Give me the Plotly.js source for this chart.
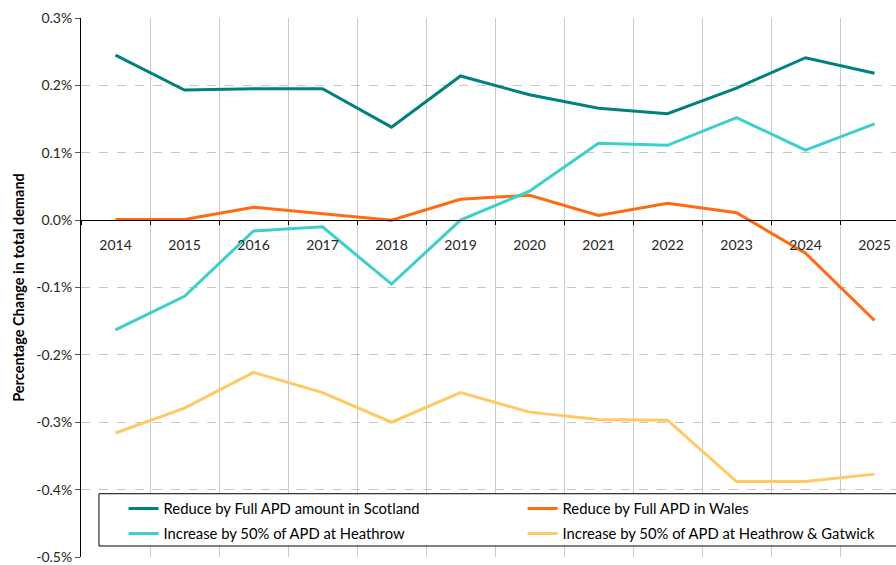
<!DOCTYPE html>
<html><head><meta charset="utf-8">
<script src="https://cdn.plot.ly/plotly-3.0.1.min.js"></script>
<style>html,body{margin:0;padding:0;overflow:hidden;background:#fff;width:896px;height:565px}</style>
</head><body>
<div id="chart" style="width:909px;height:565px"></div>
<script>
const years = ["2014","2015","2016","2017","2018","2019","2020","2021","2022","2023","2024","2025"];
const scotland = [0.245,0.193,0.195,0.195,0.138,0.214,0.186,0.166,0.158,0.196,0.241,0.218];
const wales = [0.001,0.001,0.019,0.009,0.000,0.031,0.037,0.007,0.025,0.011,-0.049,-0.149];
const heathrow = [-0.163,-0.113,-0.016,-0.010,-0.095,0.000,0.043,0.114,0.111,0.152,0.104,0.143];
const heathrowGatwick = [-0.316,-0.279,-0.226,-0.256,-0.300,-0.256,-0.285,-0.296,-0.297,-0.388,-0.388,-0.377];
const yTickVals = [0.3,0.2,0.1,0.0,-0.1,-0.2,-0.3,-0.4,-0.5];
const yTickText = ["0.3%","0.2%","0.1%","0.0%","-0.1%","-0.2%","-0.3%","-0.4%","-0.5%"];
const names = ["Reduce by Full APD amount in Scotland","Reduce by Full APD in Wales","Increase by 50% of APD at Heathrow","Increase by 50% of APD at Heathrow & Gatwick"];
const colors = ["#00807F","#FF6A13","#3CCFCB","#FFC966"];
const series = [scotland, wales, heathrow, heathrowGatwick];
const legendRefs = ["legend","legend2","legend3","legend4"];

const traces = series.map((s,i)=>({
  x: years, y: s, type: "scatter", mode: "lines", name: names[i],
  legend: legendRefs[i],
  line: {color: colors[i], width: 3}
}));

const font = "Lato, 'Open Sans', sans-serif";
const legendBase = {
  orientation: "h", xanchor: "left", yanchor: "middle",
  bgcolor: "rgba(0,0,0,0)", borderwidth: 0,
  font: {size: 14.8, family: font, color: "#000"},
  itemwidth: 30
};
const col1 = 0.0514, col2 = 0.5333, row1 = 0.0891, row2 = 0.0427;
const layout = {
  width: 909, height: 565,
  margin: {l: 81, r: 0, t: 18, b: 8},
  paper_bgcolor: "#fff", plot_bgcolor: "#fff",
  font: {family: font, color: "#262626", size: 13},
  showlegend: true,
  xaxis: {
    type: "category", range: [-0.5, 11.5],
    tickson: "boundaries",
    showgrid: true, gridcolor: "#CACACA", gridwidth: 1,
    anchor: "free", position: 0.625,
    showline: true, linecolor: "#000", linewidth: 1,
    ticks: "outside", ticklen: 4, tickcolor: "#000",
    ticklabelstandoff: 12,
    tickfont: {size: 14, family: font, color: "#262626"},
    zeroline: false
  },
  yaxis: {
    range: [-0.5, 0.3],
    tickvals: yTickVals, ticktext: yTickText,
    showgrid: true, gridcolor: "#C6C6C6", gridwidth: 1, griddash: "dash",
    showline: true, linecolor: "#000", linewidth: 1,
    ticks: "outside", ticklen: 5, tickcolor: "#595959",
    tickfont: {size: 14, family: font, color: "#262626"},
    zeroline: true, zerolinecolor: "#000", zerolinewidth: 1,
    title: {text: "<b>Percentage Change in total demand</b>", font: {size: 14.5, family: font, color: "#000"}, standoff: 8}
  },
  legend: Object.assign({}, legendBase, {x: col1, y: row1}),
  legend2: Object.assign({}, legendBase, {x: col2, y: row1}),
  legend3: Object.assign({}, legendBase, {x: col1, y: row2}),
  legend4: Object.assign({}, legendBase, {x: col2, y: row2}),
  shapes: [{
    type: "rect", xref: "paper", yref: "paper", layer: "above",
    x0: 0.0217, x1: 1.02, y0: 0.0204, y1: 0.1174,
    line: {color: "#000", width: 1}, fillcolor: "#fff"
  }]
};
Plotly.newPlot("chart", traces, layout, {displayModeBar: false, staticPlot: true});
</script>
</body></html>
